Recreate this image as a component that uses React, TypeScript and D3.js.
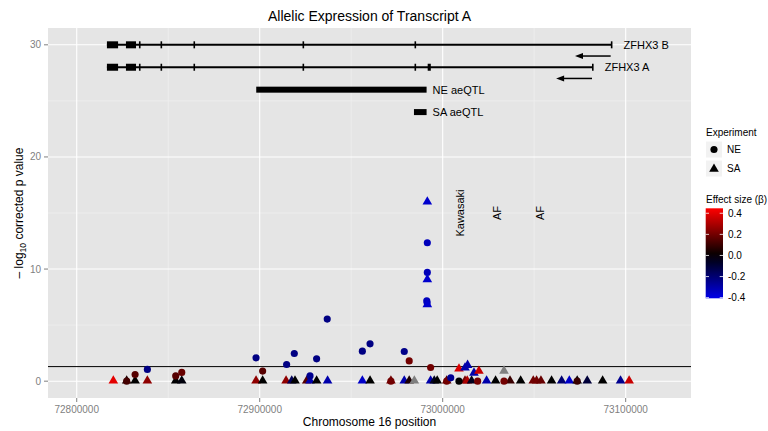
import React from "react";
import * as d3 from "d3";

// ---------- data ----------
const xTicks = [72800000, 72900000, 73000000, 73100000];
const yTicks = [0, 10, 20, 30];
const threshold = 1.3;

const exonsB: [number, number][] = [
  [72816500, 72822600], [72826900, 72832400], [72834000, 72834700], [72845800, 72846500],
  [72863800, 72864500], [72923400, 72924100], [72984600, 72985300], [73091900, 73092600],
];
const exonsA: [number, number][] = [
  [72816500, 72822600], [72826900, 72832400], [72834000, 72834700], [72845800, 72846500],
  [72863800, 72864500], [72923400, 72924100], [72984600, 72985300], [72991800, 72993500],
  [73081600, 73082300],
];
const genes = [
  { name: "ZFHX3 B", start: 72816500, end: 73092300, y: 30, arrowFrom: 73091800, arrowTo: 73072300, arrowY: 29, exons: exonsB },
  { name: "ZFHX3 A", start: 72816500, end: 73082000, y: 28, arrowFrom: 73081600, arrowTo: 73062000, arrowY: 27, exons: exonsA },
];
const qtls = [
  { name: "NE aeQTL", start: 72898100, end: 72991200, y: 26 },
  { name: "SA aeQTL", start: 72984300, end: 72991200, y: 24 },
];
const annotations = [
  { label: "Kawasaki", pos: 73009400, y: 15 },
  { label: "AF", pos: 73029600, y: 15 },
  { label: "AF", pos: 73053200, y: 15 },
];

const nePos = [72827300, 72831900, 72838600, 72854100, 72857400, 72898000, 72901600, 72914700, 72918900, 72927500, 72931100, 72936900, 72956100, 72960300, 72971700, 72979000, 72981700, 72991600, 72991600, 72991300, 72991500, 72993400, 73002200, 73004400, 73008900, 73019100, 73033500, 73073500];
const neP = [0, 0.6, 1.05, 0.47, 0.78, 2.08, 0.9, 1.49, 2.47, 0.47, 1.99, 5.54, 2.68, 3.33, 0, 2.65, 1.81, 12.35, 9.7, 7.17, 7.0, 1.22, 0, 0.3, 0, 0, 0, 0];
const neBeta: (number | null)[] = [0.12, 0.15, -0.23, 0.15, 0.18, -0.23, 0.15, -0.23, -0.23, -0.25, -0.23, -0.23, -0.23, -0.23, 0.2, -0.24, 0.2, -0.33, -0.32, -0.33, -0.33, 0.2, 0.2, -0.26, 0.0, 0.2, 0.2, 0.1];

const saPos = [72820000, 72827300, 72831900, 72838600, 72854100, 72857400, 72898000, 72901600, 72914400, 72917500, 72919300, 72925700, 72927500, 72931100, 72937100, 72956100, 72960300, 72971700, 72979000, 72981700, 72984500, 72991600, 72991600, 72991600, 72993400, 72995400, 72997000, 73002200, 73008900, 73012200, 73012200, 73013600, 73013400, 73015800, 73017100, 73019800, 73024000, 73028900, 73033500, 73036800, 73042600, 73049500, 73051300, 73053700, 73059500, 73065000, 73069200, 73073500, 73079000, 73087400, 73097200, 73101900];
const saP = [0, 0, 0, 0, 0, 0, 0, 0, 0, 0, 0, 0, 0, 0, 0, 0, 0, 0, 0, 0, 0, 16.0, 9.08, 6.85, 0, 0, 0, 0, 1.1, 1.2, 0, 1.43, 0, 0, 0.74, 0.9, 0, 0, 0.92, 0, 0, 0, 0, 0, 0, 0, 0, 0, 0, 0, 0, 0];
const saBeta: (number | null)[] = [0.4, 0.05, 0.0, 0.25, 0.0, -0.02, 0.25, 0.0, 0.25, -0.15, 0.0, 0.15, -0.3, 0.0, -0.3, -0.35, 0.0, 0.2, -0.3, 0.05, null, -0.36, -0.36, -0.36, -0.3, -0.05, 0.0, 0.15, 0.38, -0.3, 0.2, -0.3, 0.3, -0.05, -0.3, 0.35, -0.3, 0.0, null, 0.1, 0.0, 0.2, 0.2, 0.18, 0.0, -0.2, -0.35, 0.0, -0.1, 0.0, -0.25, 0.35];

const betaTicks = [0.4, 0.2, 0.0, -0.2, -0.4];
const betaRange: [number, number] = [-0.406, 0.447];

// ---------- layout ----------
const W = 768, H = 431;
const P = { left: 48, right: 691, top: 28, bottom: 398 };
const FONT = "'Liberation Sans', Arial, Helvetica, sans-serif";

export default function App() {
  const x = d3.scaleLinear().domain([72784300, 73135700]).range([P.left, P.right]);
  const y = d3.scaleLinear().domain([-1.5, 31.5]).range([P.bottom, P.top]);
  const col = d3.scaleLinear<string>()
    .domain([-0.447, 0, 0.447])
    .range(["#0000FF", "#000000", "#FF0000"])
    .interpolate(d3.interpolateRgb)
    .clamp(true);
  const colorOf = (b: number | null) => (b === null ? "#7F7F7F" : col(b));

  const circlePath = d3.symbol().type(d3.symbolCircle).size(40)()!;
  const triPath = d3.symbol().type(d3.symbolTriangle).size(40)()!;

  const xMinor = [72850000, 72950000, 73050000];
  const yMinor = [5, 15, 25];

  // colorbar scale
  const cb = d3.scaleLinear().domain(betaRange).range([298.3, 208.3]);
  const cbStops = d3.range(0, 11).map((i) => betaRange[0] + (i / 10) * (betaRange[1] - betaRange[0]));

  const neData = nePos.map((p, i) => ({ p, v: neP[i], b: neBeta[i] }));
  const saData = saPos.map((p, i) => ({ p, v: saP[i], b: saBeta[i] }));

  return (
    <svg width={W} height={H} style={{ position: "absolute", left: 0, top: 0, background: "#fff" }} fontFamily={FONT}>
      <defs>
        <linearGradient id="cbgrad" x1="0" y1="1" x2="0" y2="0">
          {cbStops.map((v, i) => (
            <stop key={i} offset={`${(i / 10) * 100}%`} stopColor={col(v)} />
          ))}
        </linearGradient>
      </defs>
      {/* title */}
      <text x={(P.left + P.right) / 2} y={21} textAnchor="middle" fontSize={14}>Allelic Expression of Transcript A</text>

      {/* panel */}
      <rect x={P.left} y={P.top} width={P.right - P.left} height={P.bottom - P.top} fill="#E5E5E5" />
      {xMinor.map((t) => (
        <line key={"xm" + t} x1={x(t)} x2={x(t)} y1={P.top} y2={P.bottom} stroke="#F2F2F2" strokeWidth={0.6} />
      ))}
      {yMinor.map((t) => (
        <line key={"ym" + t} x1={P.left} x2={P.right} y1={y(t)} y2={y(t)} stroke="#F2F2F2" strokeWidth={0.6} />
      ))}
      {xTicks.map((t) => (
        <line key={"xg" + t} x1={x(t)} x2={x(t)} y1={P.top} y2={P.bottom} stroke="#FFFFFF" strokeWidth={1.1} />
      ))}
      {yTicks.map((t) => (
        <line key={"yg" + t} x1={P.left} x2={P.right} y1={y(t)} y2={y(t)} stroke="#FFFFFF" strokeWidth={1.1} />
      ))}

      {/* genes */}
      {genes.map((g) => (
        <g key={g.name}>
          <line x1={x(g.start)} x2={x(g.end)} y1={y(g.y)} y2={y(g.y)} stroke="#000" strokeWidth={2} />
          {g.exons.map((e, i) => (
            <rect key={i} x={x(e[0])} y={y(g.y) - 3.5} width={Math.max(1.6, x(e[1]) - x(e[0]))} height={7} fill="#000" />
          ))}
          <line x1={x(g.arrowFrom)} x2={x(g.arrowTo) + 6} y1={y(g.arrowY)} y2={y(g.arrowY)} stroke="#000" strokeWidth={1.5} />
          <path d={`M${x(g.arrowTo)},${y(g.arrowY)} l8,-3 l0,6 z`} fill="#000" />
          <text x={x(g.end) + 12} y={y(g.y) + 4} fontSize={11}>{g.name}</text>
        </g>
      ))}
      {qtls.map((q) => (
        <g key={q.name}>
          <rect x={x(q.start)} y={y(q.y) - 3} width={x(q.end) - x(q.start)} height={6} fill="#000" />
          <text x={x(q.end) + 6} y={y(q.y) + 4} fontSize={11}>{q.name}</text>
        </g>
      ))}
      {annotations.map((a, i) => (
        <text key={i} transform={`translate(${x(a.pos) + 4},${y(a.y)}) rotate(-90)`} textAnchor="middle" fontSize={11}>{a.label}</text>
      ))}

      {/* threshold */}
      <line x1={P.left} x2={P.right} y1={y(threshold)} y2={y(threshold)} stroke="#000" strokeWidth={1} />

      {/* points */}
      {saData.filter((d) => d.v === 0).map((d, i) => (
        <path key={"s0" + i} d={triPath} transform={`translate(${x(d.p)},${y(d.v) - 0.5})`} fill={colorOf(d.b)} />
      ))}
      {neData.map((d, i) => (
        <path key={"n" + i} d={circlePath} transform={`translate(${x(d.p)},${y(d.v)})`} fill={colorOf(d.b)} />
      ))}
      {saData.filter((d) => d.v !== 0).map((d, i) => (
        <path key={"s1" + i} d={triPath} transform={`translate(${x(d.p)},${y(d.v)})`} fill={colorOf(d.b)} />
      ))}

      {/* axes */}
      {yTicks.map((t) => (
        <g key={"yt" + t}>
          <line x1={P.left - 4} x2={P.left} y1={y(t)} y2={y(t)} stroke="#7F7F7F" />
          <text x={P.left - 7} y={y(t) + 3.5} textAnchor="end" fontSize={10} fill="#7F7F7F">{t}</text>
        </g>
      ))}
      {xTicks.map((t) => (
        <g key={"xt" + t}>
          <line x1={x(t)} x2={x(t)} y1={P.bottom} y2={P.bottom + 4} stroke="#7F7F7F" />
          <text x={x(t)} y={P.bottom + 15} textAnchor="middle" fontSize={10} fill="#7F7F7F">{t}</text>
        </g>
      ))}
      <text x={(P.left + P.right) / 2} y={426} textAnchor="middle" fontSize={12}>Chromosome 16 position</text>
      <text transform={`translate(23,${(P.top + P.bottom) / 2}) rotate(-90)`} textAnchor="middle" fontSize={12}>
        <tspan>– log</tspan>
        <tspan fontSize={8.5} dy={3}>10</tspan>
        <tspan dy={-3}> corrected p value</tspan>
      </text>

      {/* legend: experiment */}
      <text x={706} y={136} fontSize={10}>Experiment</text>
      <rect x={705.5} y={141} width={17} height={17} fill="#F2F2F2" stroke="#fff" />
      <path d={circlePath} transform="translate(714,149.5)" fill="#000" />
      <text x={727} y={153} fontSize={10}>NE</text>
      <rect x={705.5} y={160} width={17} height={17} fill="#F2F2F2" stroke="#fff" />
      <path d={triPath} transform="translate(714,169)" fill="#000" />
      <text x={727} y={172} fontSize={10}>SA</text>

      {/* legend: effect size */}
      <text x={706} y={203} fontSize={10}>Effect size (β)</text>
      <rect x={705.7} y={208.3} width={17.3} height={90} fill="url(#cbgrad)" />
      {betaTicks.map((t) => (
        <g key={"cb" + t}>
          <line x1={705.7} x2={709} y1={cb(t)} y2={cb(t)} stroke="#fff" strokeWidth={0.8} />
          <line x1={719.7} x2={723} y1={cb(t)} y2={cb(t)} stroke="#fff" strokeWidth={0.8} />
          <text x={728} y={cb(t) + 3.5} fontSize={10}>{t.toFixed(1)}</text>
        </g>
      ))}
    </svg>
  );
}
